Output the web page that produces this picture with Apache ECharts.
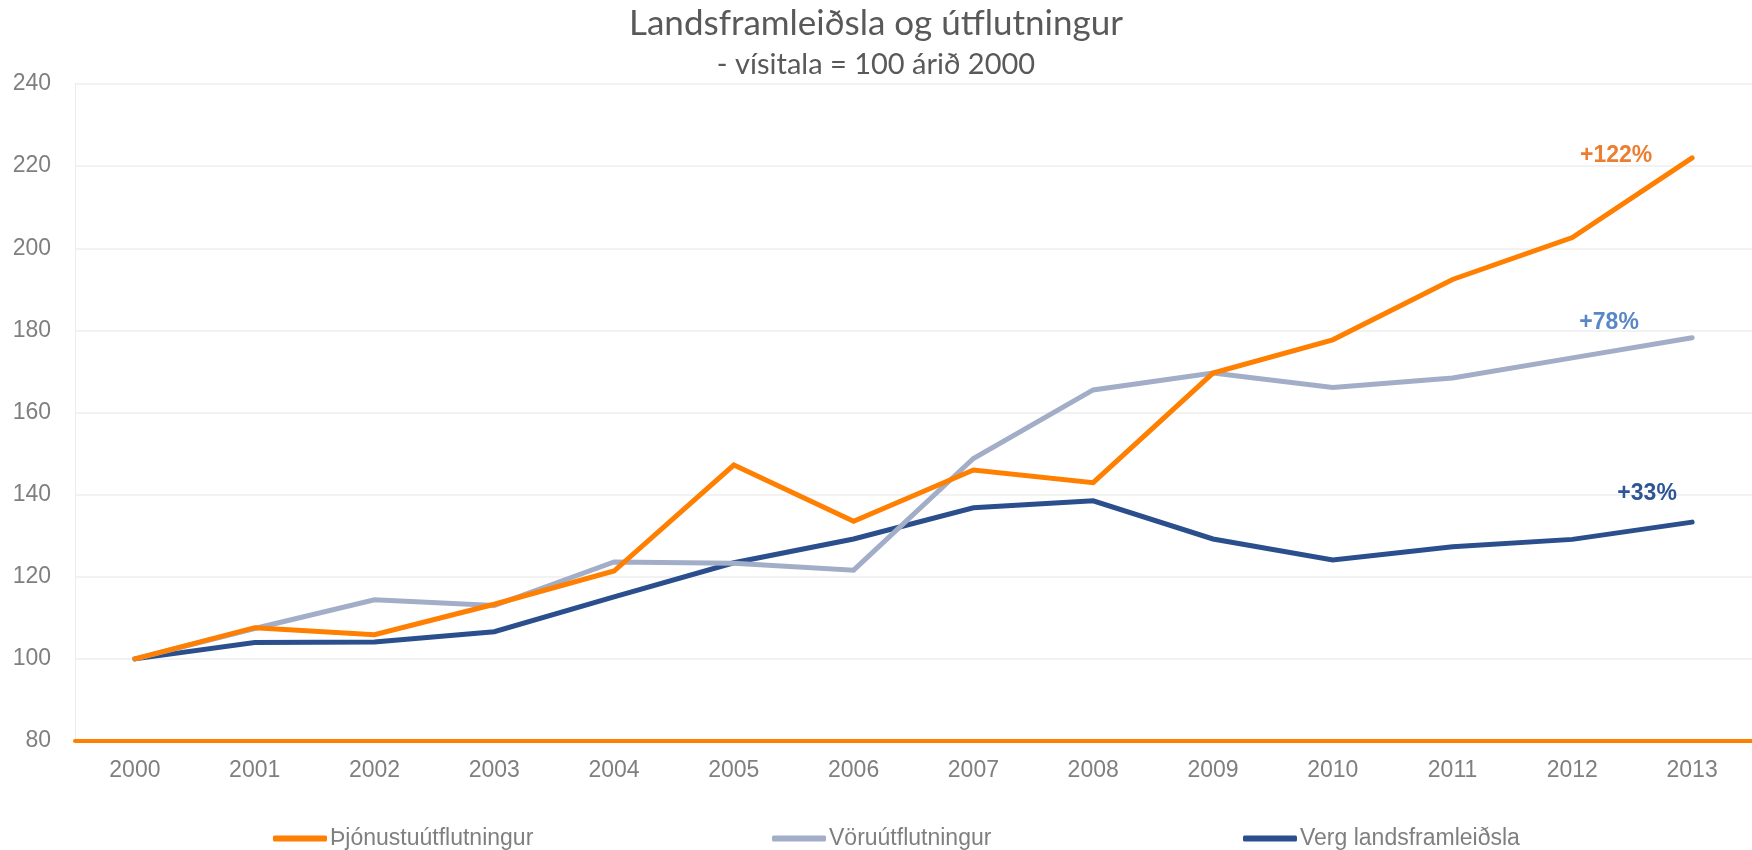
<!DOCTYPE html>
<html lang="is">
<head>
    <meta charset="UTF-8">
    <title>Landsframleiðsla og útflutningur</title>
    <script type="text/javascript" src="https://cdn.jsdelivr.net/npm/echarts@6/dist/echarts.min.js"></script>
</head>
<body style="margin:0">
<div id="main" style="width: 1752px; height: 850px;"></div>
<script type="text/javascript">
    // gögn lesin af myndinni
    var years = ['2000','2001','2002','2003','2004','2005','2006','2007','2008','2009','2010','2011','2012','2013'];
    var thjonusta = [100, 107.6, 105.9, 113.3, 121.4, 147.2, 133.5, 146.0, 142.9, 169.6, 177.7, 192.4, 202.6, 222.0];
    var voru = [100, 107.4, 114.4, 113.0, 123.6, 123.3, 121.6, 148.8, 165.5, 169.6, 166.1, 168.4, 173.3, 178.2];
    var vlf = [100, 104.0, 104.1, 106.6, 115.1, 123.4, 129.2, 136.8, 138.5, 129.2, 124.1, 127.3, 129.1, 133.3];
    var names = ['Þjónustuútflutningur', 'Vöruútflutningur', 'Verg landsframleiðsla'];
    var endLabels = ['+122%', '+78%', '+33%'];

    var colors = ['#ff7f00', '#a2adc8', '#2a4f8c'];
    var labelColors = ['#ed7d31', '#5a88c6', '#2f5597'];
    var labelOffsets = [[-76, -2], [-83, -15], [-45, -28]];
    var seriesData = [thjonusta, voru, vlf];

    var series = [];
    for (var i = 0; i < seriesData.length; i++) {
        var d = seriesData[i];
        series.push({
            name: names[i],
            type: 'line',
            data: d,
            symbol: 'none',
            lineStyle: {width: 5, color: colors[i], cap: 'round', join: 'miter'},
            itemStyle: {color: colors[i]},
            z: 10 - i,
            markPoint: {
                symbol: 'circle',
                symbolSize: 0,
                silent: true,
                label: {
                    show: true,
                    formatter: endLabels[i],
                    color: labelColors[i],
                    fontFamily: 'Liberation Sans',
                    fontWeight: 'bold',
                    fontSize: 23,
                    offset: labelOffsets[i]
                },
                data: [{coord: [years[years.length - 1], d[d.length - 1]]}]
            }
        });
    }

    var legendLefts = [268, 767, 1238];
    var legends = [];
    for (var j = 0; j < names.length; j++) {
        legends.push({
            data: [names[j]],
            left: legendLefts[j],
            top: 822,
            icon: 'roundRect',
            itemWidth: 54,
            itemHeight: 6,
            itemGap: 0,
            selectedMode: false,
            textStyle: {
                color: '#7f7f7f',
                fontFamily: 'Liberation Sans',
                fontSize: 23,
                padding: [0, 0, 0, -2]
            }
        });
    }

    var option = {
        animation: false,
        backgroundColor: '#ffffff',
        title: {
            text: 'Landsframleiðsla og útflutningur',
            subtext: '- vísitala = 100 árið 2000',
            left: 'center',
            top: 1,
            itemGap: 9,
            textStyle: {
                fontFamily: 'Lato',
                fontWeight: 'normal',
                fontSize: 35,
                color: '#595959'
            },
            subtextStyle: {
                fontFamily: 'Lato',
                fontSize: 29,
                color: '#595959'
            }
        },
        legend: legends,
        grid: {
            left: 75,
            right: 0,
            top: 84,
            bottom: 109
        },
        xAxis: {
            type: 'category',
            data: years,
            boundaryGap: true,
            axisLine: {lineStyle: {color: '#ff7f00', width: 4}},
            axisTick: {show: false},
            axisLabel: {
                color: '#7f7f7f',
                fontFamily: 'Liberation Sans',
                fontSize: 23,
                margin: 18
            }
        },
        yAxis: {
            type: 'value',
            min: 80,
            max: 240,
            interval: 20,
            axisLine: {show: true, lineStyle: {color: '#ececec', width: 1}},
            axisTick: {show: false},
            splitLine: {lineStyle: {color: '#eeeeee', width: 1.5}},
            axisLabel: {
                color: '#7f7f7f',
                fontFamily: 'Liberation Sans',
                fontSize: 23,
                margin: 24
            }
        },
        series: series
    };

    var myChart = echarts.init(document.getElementById('main'));
    myChart.setOption(option);
</script>
</body>
</html>
